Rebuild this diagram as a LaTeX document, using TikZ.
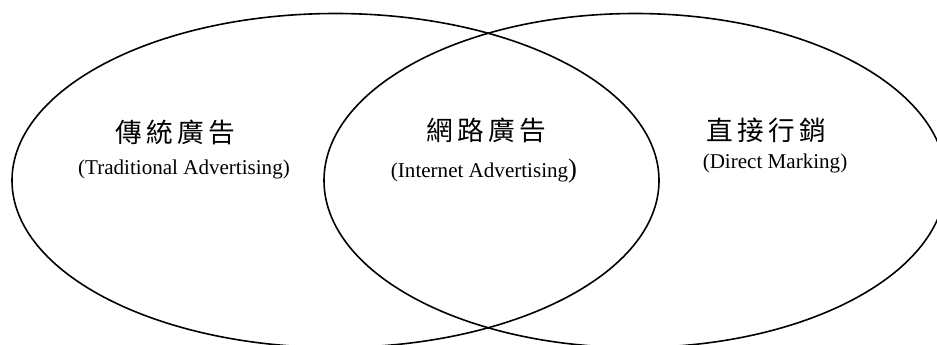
\documentclass[tikz,border=0pt]{standalone}
\usepackage{fontspec}
\setmainfont{Liberation Serif}
\newfontfamily\cjk{Noto Sans CJK TC}
\newcommand{\cg}{\hspace{3.2pt}}
\tikzset{
  ring/.style={draw=black, line width=1.2pt},
  zh/.style={font=\cjk\fontsize{20pt}{22pt}\selectfont, inner sep=0pt},
  en/.style={font=\fontsize{15.8pt}{18pt}\selectfont, inner sep=0pt},
}
\begin{document}
\begin{tikzpicture}[x=0.75pt,y=-0.75pt]
\useasboundingbox (0,0) rectangle (937,344);
\clip (0,0) rectangle (937,344);
\fill[white] (0,0) rectangle (937,344);
\draw[ring] (335.5,180.5) ellipse [x radius=323.5, y radius=167];
\draw[ring] (635,180.5) ellipse [x radius=311, y radius=167];
\node[zh] (tzh) at (175,132) {傳\cg 統\cg 廣\cg 告};
\node[en] (ten) at (184,169) {(Traditional Advertising)};
\node[zh] (izh) at (486,130) {網\cg 路\cg 廣\cg 告};
\node[en] (ien) at (484,171) {(Internet Advertising{\fontsize{20pt}{22pt}\selectfont)}};
\node[zh] (dzh) at (766,130) {直\cg 接\cg 行\cg 銷};
\node[en] (den) at (775,163) {(Direct Marking)};
\end{tikzpicture}
\end{document}
